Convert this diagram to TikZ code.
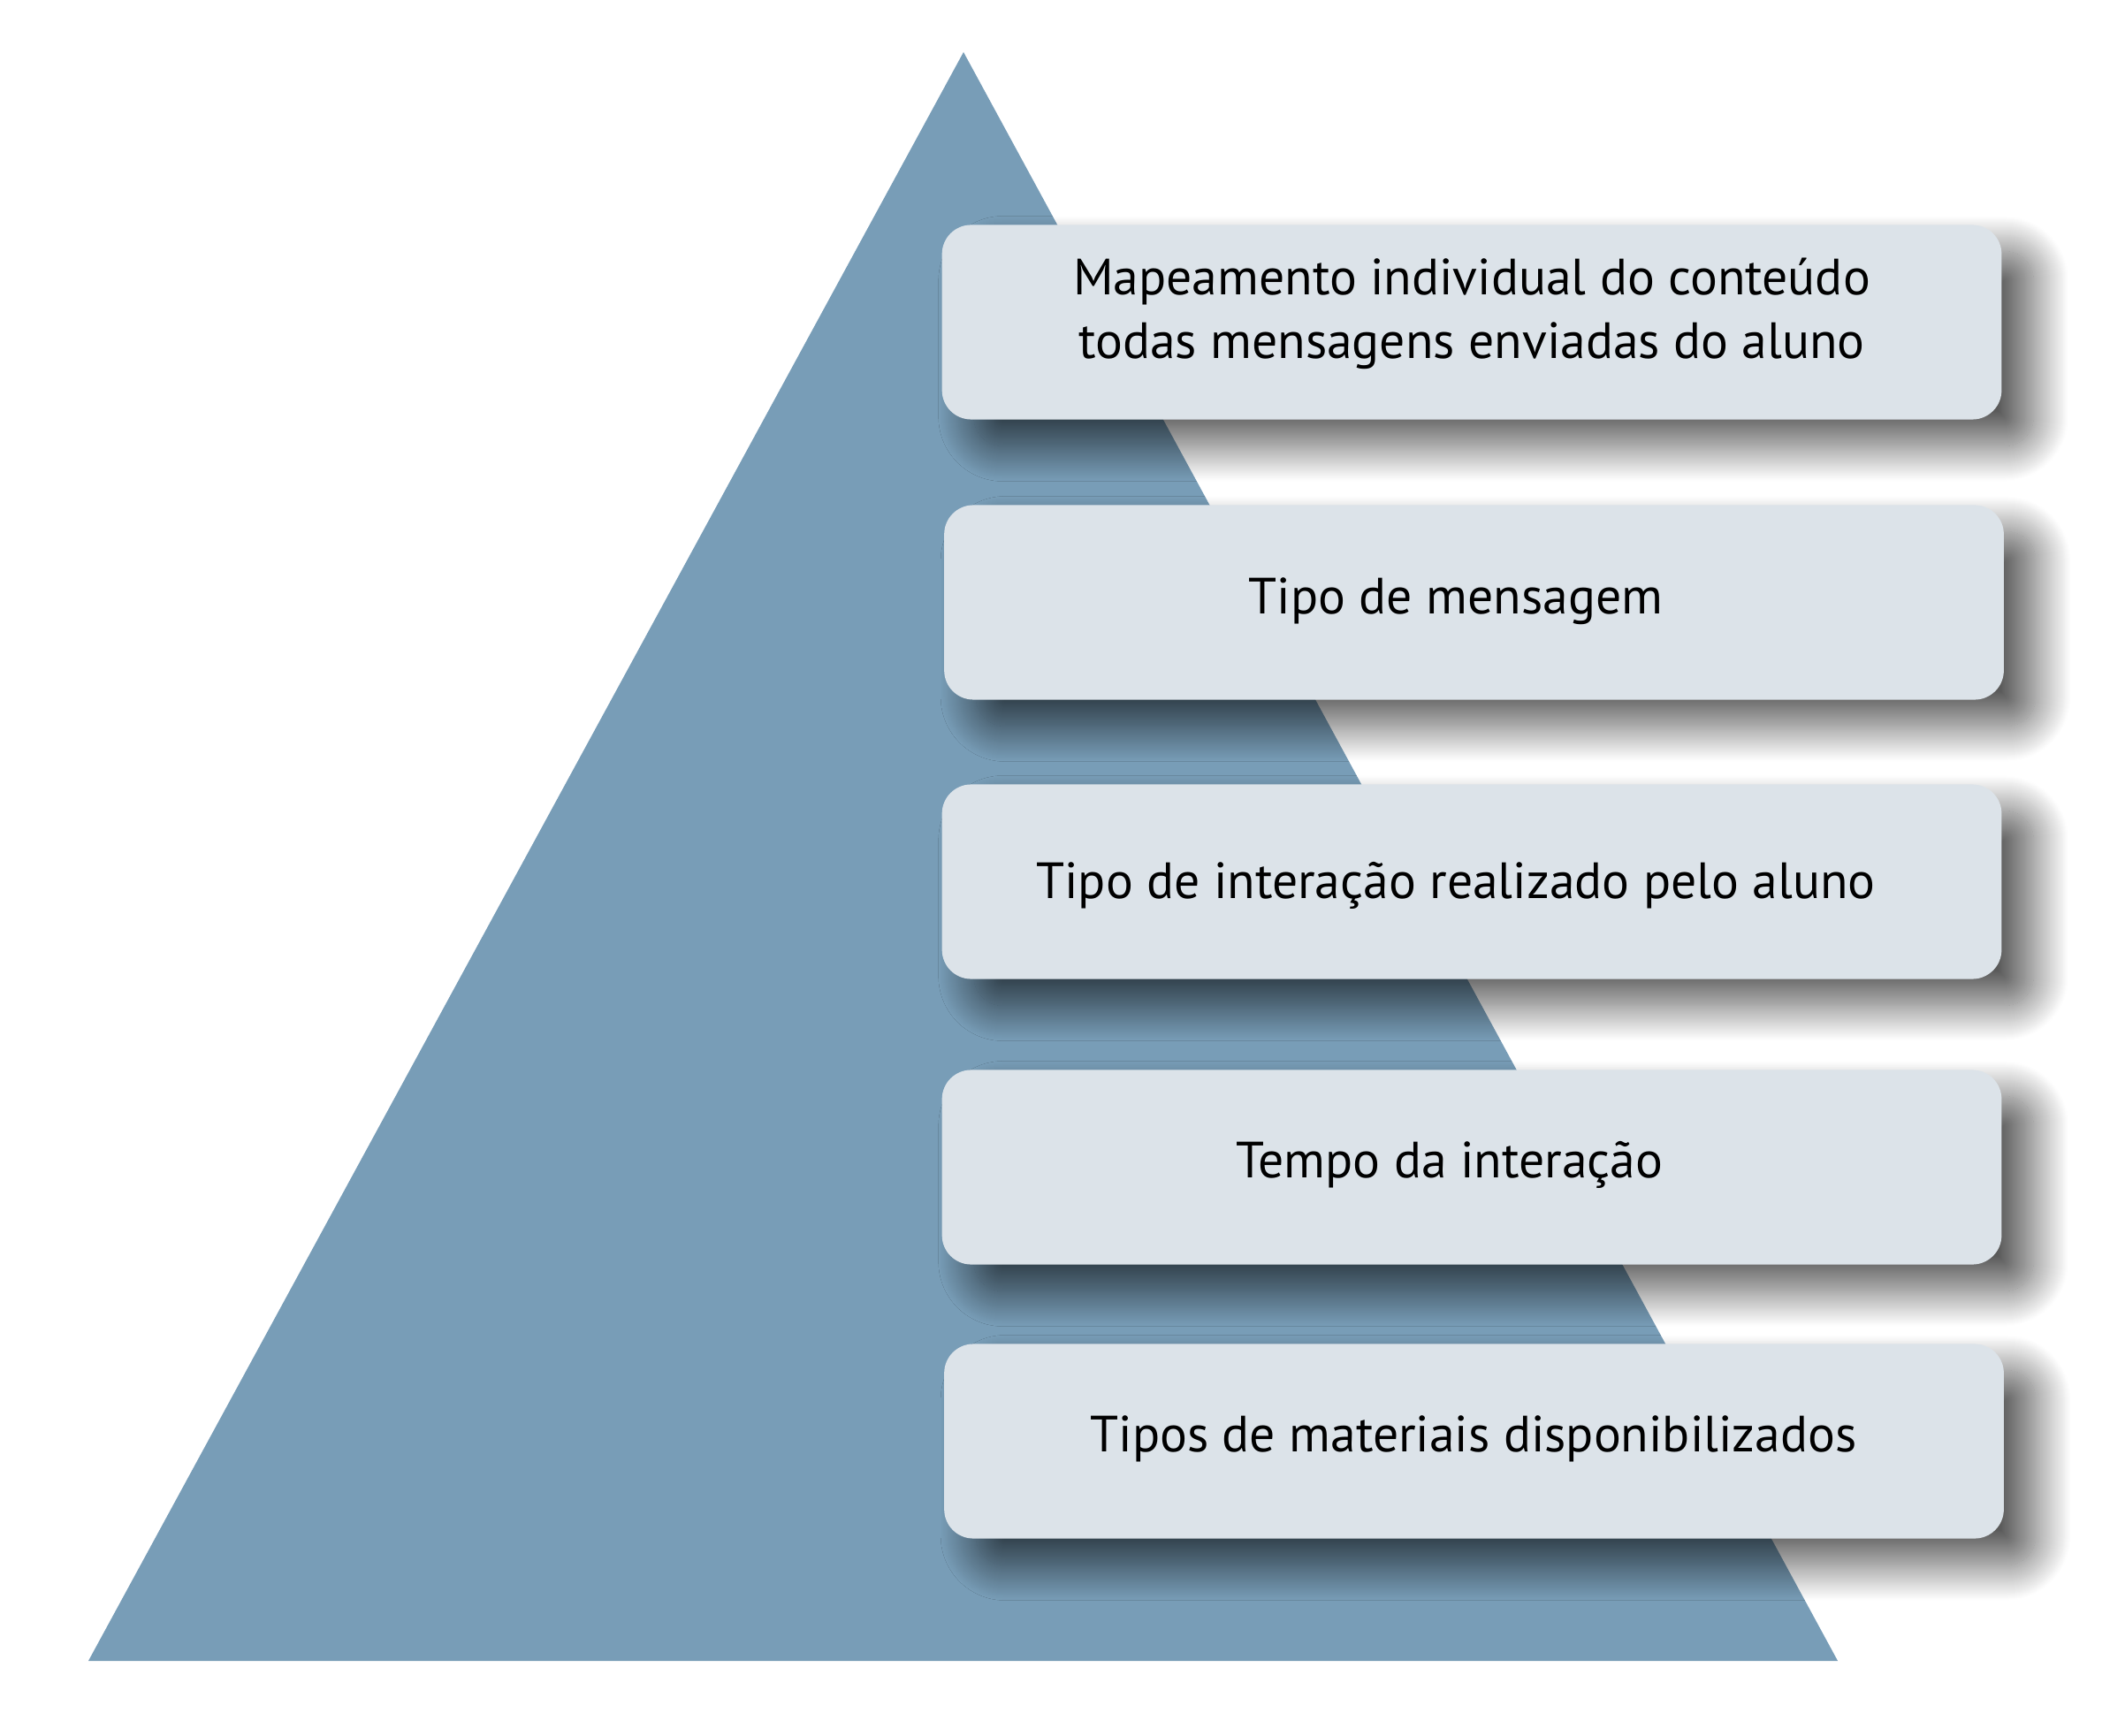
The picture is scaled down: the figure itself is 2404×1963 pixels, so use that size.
\documentclass[tikz,border=0pt]{standalone}
\usepackage{fontspec}
\setmainfont{PT Sans}
\usetikzlibrary{shadows.blur}

\definecolor{pyramid}{HTML}{789DB7}
\definecolor{boxfill}{HTML}{DCE3E9}

\tikzset{
  levelbox/.style={fill=boxfill, rounded corners=0.33cm, minimum width=11.98cm,
    minimum height=2.2cm, inner sep=0pt,
    blur shadow={shadow xshift=0.36cm, shadow yshift=-0.3cm,
      shadow blur radius=0.4cm, shadow blur steps=40, shadow opacity=65}},
  leveltext/.style={anchor=base, inner sep=0pt, align=center,
    font=\fontsize{16.4}{20.5}\selectfont}
}

\begin{document}
\begin{tikzpicture}[x=0.01cm,y=0.01cm]
  \useasboundingbox (0,0) rectangle (2404,1963);
  % pyramid
  \fill[pyramid] (1090,1904)--(2079,84)--(100,84)--cycle;
  % levels, top to bottom
  \node[levelbox] (b1) at (1665,1598.5) {};
  \node[levelbox] (b2) at (1667.5,1281.5) {};
  \node[levelbox] (b3) at (1665,965.5) {};
  \node[levelbox] (b4) at (1665,642.5) {};
  \node[levelbox] (b5) at (1667.5,332.5) {};
  \node[leveltext] (t1) at (1665,1557) {Mapeamento individual do conteúdo\\todas mensagens enviadas do aluno};
  \node[leveltext] (t2) at (1647,1268.5) {Tipo de mensagem};
  \node[leveltext] (t3) at (1647,946.5) {Tipo de interação realizado pelo aluno};
  \node[leveltext] (t4) at (1640,631) {Tempo da interação};
  \node[leveltext] (t5) at (1667,321) {Tipos de materiais disponibilizados};
\end{tikzpicture}
\end{document}
